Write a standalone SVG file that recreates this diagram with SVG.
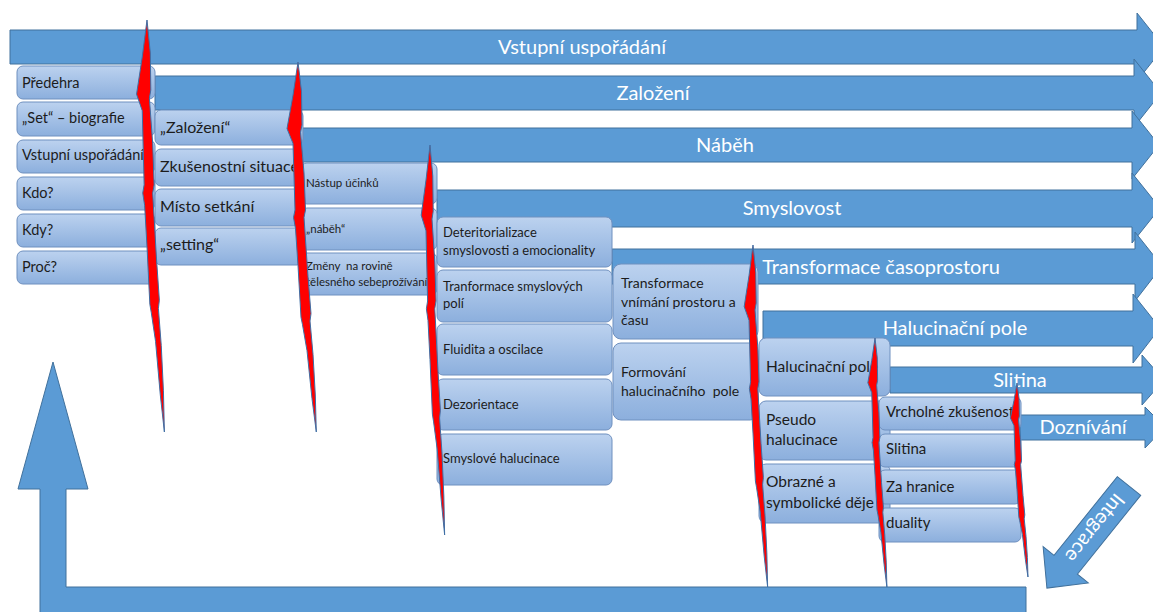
<svg xmlns="http://www.w3.org/2000/svg" width="1153" height="612" viewBox="0 0 1153 612">
<defs>
<linearGradient id="boxg" x1="0" y1="0" x2="0" y2="1">
<stop offset="0" stop-color="#bcd2ef"/>
<stop offset="1" stop-color="#8cafdd"/>
</linearGradient>
</defs>
<style>
.band{fill:#5b9bd5;stroke:#41719c;stroke-width:1}
.lbl{font-family:Lato,"Liberation Sans",sans-serif;font-size:20px;fill:#ffffff}
.box{fill:url(#boxg);stroke:#6f90bf;stroke-width:1}
.t{font-family:Lato,"Liberation Sans",sans-serif;fill:#1c1c1c}
.c1{font-size:14.5px}.c2{font-size:16px}.c3{font-size:11.5px}.c4{font-size:13px}.c5{font-size:14px}.c6{font-size:15.5px}.c7{font-size:15px}
.bolt{fill:#ff0000;stroke:#3f6fa5;stroke-width:1;vector-effect:non-scaling-stroke}
</style>
<rect width="1153" height="612" fill="#ffffff"/>

<g id="bands">
<g id="band-vstupni"><polygon class="band" points="10,30 1137,30 1137,13 1164,47 1137,81 1137,64 10,64"/><text class="lbl" x="582" y="54" text-anchor="middle">Vstupní uspořádání</text></g>
<g id="band-zalozeni"><polygon class="band" points="155,76 1134,76 1134,59 1161,93 1134,127 1134,110 155,110"/><text class="lbl" x="653" y="100" text-anchor="middle">Založení</text></g>
<g id="band-nabeh"><polygon class="band" points="300,128 1132,128 1132,111 1159,145 1132,179 1132,162 300,162"/><text class="lbl" x="725" y="152" text-anchor="middle">Náběh</text></g>
<g id="band-smyslovost"><polygon class="band" points="437,190 1132,190 1132,173 1160,208 1132,243 1132,227 437,227"/><text class="lbl" x="792" y="215" text-anchor="middle">Smyslovost</text></g>
<g id="band-transformace"><polygon class="band" points="612,249 1135,249 1135,232 1162,266 1135,301 1135,284 612,284"/><text class="lbl" x="881" y="274" text-anchor="middle">Transformace časoprostoru</text></g>
<g id="band-halucinacni"><polygon class="band" points="763,311 1133,311 1133,294 1160,328 1133,363 1133,346 763,346"/><text class="lbl" x="955" y="335" text-anchor="middle">Halucinační pole</text></g>
<g id="band-slitina"><polygon class="band" points="890,367 1142,367 1142,355 1164,380 1142,405 1142,393 890,393"/><text class="lbl" x="1020" y="387" text-anchor="middle">Slitina</text></g>
<g id="band-doznivani"><polygon class="band" points="1020,415 1145,415 1145,407 1165,427 1145,448 1145,440 1020,440"/><text class="lbl" x="1083" y="434" text-anchor="middle">Doznívání</text></g>
</g>

<g id="connectors">
<polygon class="band" points="40,615 40,489 18,489 53,362 88,489 66,489 66,587 1026,587 1026,615"/>
<g id="integrace" transform="translate(1129,486) rotate(128.8)">
<polygon class="band" points="0,-15 101,-15 101,-29 131,0 101,29 101,15 0,15"/>
<text class="lbl" x="54" y="7" text-anchor="middle" style="font-size:20px">Integrace</text>
</g>
</g>

<g id="col1">
<g id="n-predehra"><rect class="box" x="17" y="66" width="138" height="33" rx="6"/><text class="t c1" x="22" y="88">Předehra</text></g>
<g id="n-set"><rect class="box" x="17" y="102" width="138" height="34" rx="6"/><text class="t c1" x="22" y="123">„Set“ – biografie</text></g>
<g id="n-vstupni"><rect class="box" x="17" y="140" width="138" height="33" rx="6"/><text class="t c1" x="22" y="160">Vstupní uspořádání</text></g>
<g id="n-kdo"><rect class="box" x="17" y="177" width="138" height="33" rx="6"/><text class="t c1" x="22" y="198">Kdo?</text></g>
<g id="n-kdy"><rect class="box" x="17" y="214" width="138" height="33" rx="6"/><text class="t c1" x="22" y="235">Kdy?</text></g>
<g id="n-proc"><rect class="box" x="17" y="251" width="138" height="33" rx="6"/><text class="t c1" x="22" y="272">Proč?</text></g>
</g>

<g id="col2">
<g id="n-zalozeni"><rect class="box" x="155" y="110" width="148" height="35" rx="6"/><text class="t c2" x="160" y="133">„Založení“</text></g>
<g id="n-zkusenostni"><rect class="box" x="155" y="149" width="148" height="37" rx="6"/><text class="t c2" x="160" y="172">Zkušenostní situace</text></g>
<g id="n-misto"><rect class="box" x="155" y="189" width="148" height="37" rx="6"/><text class="t c2" x="160" y="212">Místo setkání</text></g>
<g id="n-setting"><rect class="box" x="155" y="228" width="148" height="37" rx="6"/><text class="t c2" x="160" y="250">„setting“</text></g>
</g>

<g id="col3">
<g id="n-nastup"><rect class="box" x="301" y="163" width="136" height="41" rx="6"/><text class="t c3" x="306" y="187">Nástup účinků</text></g>
<g id="n-nabeh"><rect class="box" x="301" y="208" width="136" height="42" rx="6"/><text class="t c3" x="306" y="233">„náběh“</text></g>
<g id="n-zmeny"><rect class="box" x="301" y="253" width="136" height="42" rx="6"/><text class="t c3" x="306" y="270" xml:space="preserve">Změny  na rovině</text><text class="t c3" x="306" y="286">tělesného sebeprožívání</text></g>
</g>

<g id="col4">
<g id="n-deterit"><rect class="box" x="437" y="217" width="175" height="50" rx="6"/><text class="t c4" x="443" y="237">Deteritorializace</text><text class="t c4" x="443" y="255">smyslovosti a emocionality</text></g>
<g id="n-tranform"><rect class="box" x="437" y="270" width="175" height="52" rx="6"/><text class="t c4" x="443" y="291">Tranformace smyslových</text><text class="t c4" x="443" y="308">polí</text></g>
<g id="n-fluidita"><rect class="box" x="437" y="324" width="175" height="51" rx="6"/><text class="t c4" x="443" y="354">Fluidita a oscilace</text></g>
<g id="n-dezorient"><rect class="box" x="437" y="379" width="175" height="51" rx="6"/><text class="t c4" x="443" y="409">Dezorientace</text></g>
<g id="n-smyslove"><rect class="box" x="437" y="434" width="175" height="51" rx="6"/><text class="t c4" x="443" y="463">Smyslové halucinace</text></g>
</g>

<g id="col5">
<g id="n-transvnim"><rect class="box" x="613" y="264" width="145" height="75" rx="8"/><text class="t c5" x="621" y="288">Transformace</text><text class="t c5" x="621" y="307">vnímání prostoru a</text><text class="t c5" x="621" y="325">času</text></g>
<g id="n-formovani"><rect class="box" x="613" y="343" width="145" height="77" rx="8"/><text class="t c5" x="621" y="377">Formování</text><text class="t c5" x="621" y="396" xml:space="preserve">halucinačního  pole</text></g>
</g>

<g id="col6">
<g id="n-halpole"><rect class="box" x="759" y="338" width="131" height="58" rx="7"/><text class="t c6" x="766" y="372">Halucinační pole</text></g>
<g id="n-pseudo"><rect class="box" x="759" y="401" width="131" height="59" rx="7"/><text class="t c6" x="766" y="425">Pseudo</text><text class="t c6" x="766" y="445">halucinace</text></g>
<g id="n-obrazne"><rect class="box" x="759" y="464" width="131" height="59" rx="7"/><text class="t c6" x="766" y="487">Obrazné a</text><text class="t c6" x="766" y="508">symbolické děje</text></g>
</g>

<g id="col7">
<g id="n-vrcholne"><rect class="box" x="879" y="397" width="142" height="33" rx="6"/><text class="t c7" x="886" y="417">Vrcholné zkušenosti</text></g>
<g id="n-slitina"><rect class="box" x="879" y="434" width="142" height="33" rx="6"/><text class="t c7" x="886" y="454">Slitina</text></g>
<g id="n-zahranice"><rect class="box" x="879" y="470" width="142" height="34" rx="6"/><text class="t c7" x="886" y="492">Za hranice</text></g>
<g id="n-duality"><rect class="box" x="879" y="508" width="142" height="34" rx="6"/><text class="t c7" x="886" y="528">duality</text></g>
</g>

<g id="bolts">
<polygon class="bolt" transform="translate(147,20) scale(0.95,4.12)" points="0,0 3.5,8 4,17 2.5,19 6,30 7.5,40 6,42 10,58 13,68 12,70 15,79 17.3,90 18.3,100 14,91 9,78 4.5,71 3,69 0,55 -2.5,45 -4.5,42 -3,40 -5,22 -11,18 -5,9"/>
<polygon class="bolt" transform="translate(298,62) scale(1,3.7)" points="0,0 3.5,8 4,17 2.5,19 6,30 7.5,40 6,42 10,58 13,68 12,70 15,79 17.3,90 18.3,100 14,91 9,78 4.5,71 3,69 0,55 -2.5,45 -4.5,42 -3,40 -5,22 -11,18 -5,9"/>
<polygon class="bolt" transform="translate(430,145) scale(0.8,3.9)" points="0,0 3.5,8 4,17 2.5,19 6,30 7.5,40 6,42 10,58 13,68 12,70 15,79 17.3,90 18.3,100 14,91 9,78 4.5,71 3,69 0,55 -2.5,45 -4.5,42 -3,40 -5,22 -11,18 -5,9"/>
<polygon class="bolt" transform="translate(753,245) scale(0.8,3.42)" points="0,0 3.5,8 4,17 2.5,19 6,30 7.5,40 6,42 10,58 13,68 12,70 15,79 17.3,90 18.3,100 14,91 9,78 4.5,71 3,69 0,55 -2.5,45 -4.5,42 -3,40 -5,22 -11,18 -5,9"/>
<polygon class="bolt" transform="translate(875,338) scale(0.65,2.49)" points="0,0 3.5,8 4,17 2.5,19 6,30 7.5,40 6,42 10,58 13,68 12,70 15,79 17.3,90 18.3,100 14,91 9,78 4.5,71 3,69 0,55 -2.5,45 -4.5,42 -3,40 -5,22 -11,18 -5,9"/>
<polygon class="bolt" transform="translate(1017,383) scale(0.6,1.94)" points="0,0 3.5,8 4,17 2.5,19 6,30 7.5,40 6,42 10,58 13,68 12,70 15,79 17.3,90 18.3,100 14,91 9,78 4.5,71 3,69 0,55 -2.5,45 -4.5,42 -3,40 -5,22 -11,18 -5,9"/>
</g>
</svg>
